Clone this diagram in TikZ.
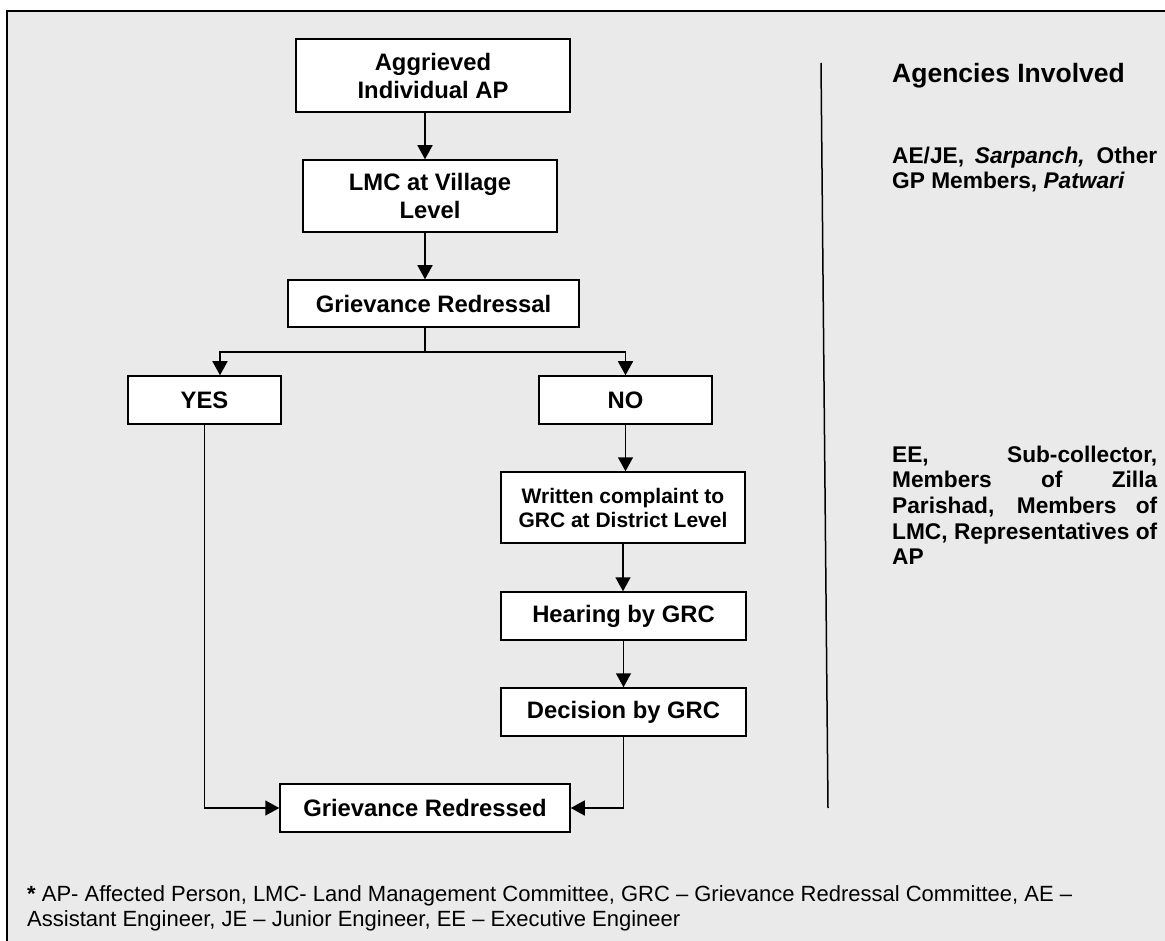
\documentclass[tikz,border=0pt]{standalone}
\usepackage{fontspec}
\setmainfont{Liberation Sans}
\usetikzlibrary{arrows.meta}
\definecolor{panelgray}{HTML}{EAEAEA}

\begin{document}
\begin{tikzpicture}[x=1pt, y=-1pt,
  box/.style={draw=black, line width=1.5pt, fill=white, inner sep=0pt, align=center,
    font=\fontsize{23.8}{28}\selectfont\bfseries},
  link/.style={line width=1.5pt},
  arr/.style={link, -{Triangle[width=15pt,length=14pt]}},
  agencytext/.style={anchor=north west, inner sep=0pt, align=left,
    font=\fontsize{22.7}{25.6}\selectfont\bfseries}]

  \useasboundingbox (0,0) rectangle (1165,941);
  \fill[panelgray] (7,11) rectangle (1175,951);
  \draw[line width=1.8pt] (7,951) -- (7,11) -- (1175,11);

  % flow boxes
  \node[box, minimum width=274pt, minimum height=73pt] (agg) at (433,75.5) {Aggrieved\\Individual AP};
  \node[box, minimum width=254pt, minimum height=72pt] (lmc) at (430,196) {LMC at Village\\Level};
  \node[box, minimum width=291pt, minimum height=47pt] (redress) at (433.5,303.5) {Grievance Redressal};
  \node[box, minimum width=153pt, minimum height=48pt] (yes) at (204.5,400) {YES};
  \node[box, minimum width=173pt, minimum height=48pt] (no) at (625.5,400) {NO};
  \node[box, minimum width=244pt, minimum height=71pt,
        font=\fontsize{21}{24}\selectfont\bfseries] (written) at (623,507.5) {Written complaint to\\GRC at District Level};
  \node[box, minimum width=245pt, minimum height=48pt] (hearing) at (623.5,616) {Hearing by GRC};
  \node[box, minimum width=245pt, minimum height=48pt] (decision) at (623.5,712) {Decision by GRC};
  \node[box, minimum width=290pt, minimum height=48pt] (done) at (425,808) {Grievance Redressed};

  \coordinate (spine) at (425,0);
  \coordinate (fork) at (425,352);

  \draw[arr] (agg.south -| spine) -- (lmc.north -| spine);
  \draw[arr] (lmc.south -| spine) -- (redress.north -| spine);
  \draw[link] (redress.south -| spine) -- (fork);
  \draw[arr] (fork) -| ([xshift=15.5pt]yes.north);
  \draw[arr] (fork) -| (no.north);
  \draw[arr] (no.south) -- (no.south |- written.north);
  \draw[arr] (written.south) -- (written.south |- hearing.north);
  \draw[arr] (hearing.south) -- (hearing.south |- decision.north);
  \draw[arr] (decision.south) |- (done.east);
  \draw[arr] (yes.south) |- (done.west);

  % agencies column
  \coordinate (sepTop) at (821,63);
  \coordinate (sepBot) at (828,808);
  \draw[link] (sepTop) -- (sepBot);

  \node[anchor=base west, inner sep=0pt, font=\fontsize{26.5}{30}\selectfont\bfseries]
    (agencies) at (892,83) {Agencies Involved};
  \node[agencytext] (village) at (892,146.4)
    {\makebox[265pt][s]{AE/JE, \textit{Sarpanch,} Other}\\GP Members, \textit{Patwari}};
  \node[agencytext] (district) at (892,445.6)
    {\makebox[265pt][s]{EE, Sub-collector,}\\
     \makebox[265pt][s]{Members of Zilla}\\
     \makebox[265pt][s]{Parishad, Members of}\\
     \makebox[265pt][s]{LMC, Representatives of}\\
     AP};

  % footnote
  \node[anchor=north west, inner sep=0pt, align=left, font=\fontsize{22}{25}\selectfont]
    (note) at (27,885) {\textbf{*} AP- Affected Person, LMC- Land Management Committee, GRC – Grievance Redressal Committee, AE –\\
    Assistant Engineer, JE – Junior Engineer, EE – Executive Engineer};

\end{tikzpicture}
\end{document}
